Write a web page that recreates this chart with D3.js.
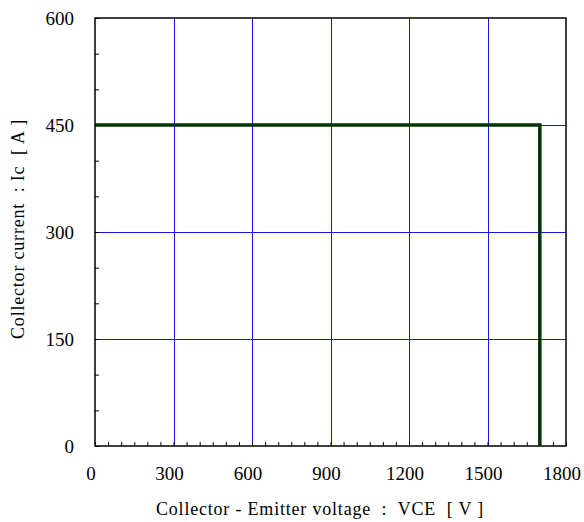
<!DOCTYPE html>
<html>
<head>
<meta charset="utf-8">
<script src="https://cdn.jsdelivr.net/npm/d3@7"></script>
<style>
  body { margin: 0; background: #fff; }
  text { font-family: "Liberation Serif", "Times New Roman", serif; fill: #000; }
</style>
</head>
<body>
<script>
// SOA boundary (VCE in V, Ic in A)
let vce = [0, 1700, 1700];
let ic = [450, 450, 0];
let xTicks = [0, 300, 600, 900, 1200, 1500, 1800];
let yTicks = [0, 150, 300, 450, 600];

let width = 584, height = 522;
let mLeft = 95, mRight = 566, mTop = 18, mBottom = 446;

let svg = d3.select("body").append("svg")
    .attr("width", width)
    .attr("height", height);

let x = d3.scaleLinear().domain([0, 1800]).range([mLeft, mRight]);
let y = d3.scaleLinear().domain([0, 600]).range([mBottom, mTop]);

// grid lines
svg.append("g")
    .selectAll("line")
    .data(xTicks.filter(d => d > 0 && d < 1800))
    .join("line")
    .attr("x1", d => Math.round(x(d)) + 0.5).attr("x2", d => Math.round(x(d)) + 0.5)
    .attr("y1", mTop).attr("y2", mBottom)
    .attr("stroke", "#1515e8").attr("stroke-width", 1);

svg.append("g")
    .selectAll("line")
    .data(yTicks.filter(d => d > 0 && d < 600))
    .join("line")
    .attr("y1", d => Math.round(y(d)) + 0.5).attr("y2", d => Math.round(y(d)) + 0.5)
    .attr("x1", mLeft).attr("x2", mRight)
    .attr("stroke", "#1515e8").attr("stroke-width", 1);

// minor ticks (inside)
let xAxis = d3.axisBottom(x).tickValues(d3.range(0, 1801, 50))
    .tickSize(-4).tickFormat("");
svg.append("g")
    .attr("transform", "translate(0," + mBottom + ")")
    .call(xAxis)
    .call(g => g.select(".domain").remove())
    .selectAll("line").attr("stroke", "#000");

let yAxis = d3.axisLeft(y).tickValues(d3.range(0, 601, 50))
    .tickSize(-4).tickFormat("");
svg.append("g")
    .attr("transform", "translate(" + mLeft + ",0)")
    .call(yAxis)
    .call(g => g.select(".domain").remove())
    .selectAll("line").attr("stroke", "#000");

// frame
svg.append("rect")
    .attr("x", mLeft).attr("y", mTop)
    .attr("width", mRight - mLeft).attr("height", mBottom - mTop)
    .attr("fill", "none").attr("stroke", "#000").attr("stroke-width", 1.5);

// tick labels
svg.append("g")
    .selectAll("text")
    .data(xTicks)
    .join("text")
    .attr("x", d => x(d) - 4)
    .attr("y", 480)
    .attr("text-anchor", "middle")
    .style("font-size", "19px")
    .text(d => d);

svg.append("g")
    .selectAll("text")
    .data(yTicks)
    .join("text")
    .attr("x", 74)
    .attr("y", d => y(d) + 7)
    .attr("text-anchor", "end")
    .style("font-size", "19px")
    .text(d => d);

// boundary line
let line = d3.line()
    .x((d, i) => x(vce[i]))
    .y(d => y(d));
svg.append("path")
    .attr("d", line(ic))
    .attr("fill", "none")
    .attr("stroke", "#003300")
    .attr("stroke-width", 3.5);

// axis titles
svg.append("text")
    .attr("x", 320)
    .attr("y", 515)
    .attr("text-anchor", "middle")
    .style("font-size", "18px")
    .style("letter-spacing", "0.8px")
    .style("white-space", "pre")
    .text("Collector - Emitter voltage  :  VCE  [ V ]");

svg.append("text")
    .attr("transform", "translate(24,229) rotate(-90)")
    .attr("text-anchor", "middle")
    .style("font-size", "18px")
    .style("letter-spacing", "0.8px")
    .style("white-space", "pre")
    .text("Collector current  : Ic  [ A ]");
</script>
</body>
</html>
